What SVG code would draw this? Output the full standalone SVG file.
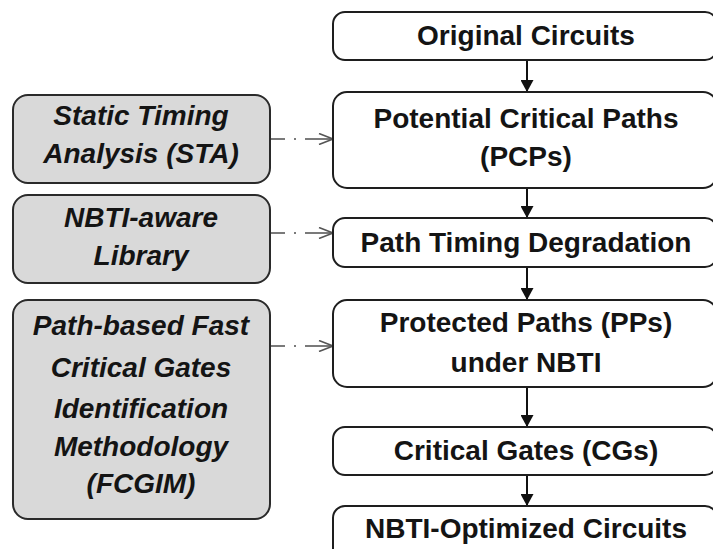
<svg xmlns="http://www.w3.org/2000/svg" width="713" height="549" viewBox="0 0 713 549">
  <style>
    .step { fill: #ffffff; stroke: #1e1e1e; stroke-width: 2; }
    .tool { fill: #d9d9d9; stroke: #2a2a2a; stroke-width: 2; }
    .t { font-family: "Liberation Sans", Arial, sans-serif; font-weight: bold; font-size: 28px; fill: #141414; text-anchor: middle; }
    .ti { font-style: italic; }
    .flow { stroke: #111; stroke-width: 2; fill: none; marker-end: url(#solid); }
    .feed { stroke: #7a7a7a; stroke-width: 2; fill: none; stroke-dasharray: 17 9 2 9 60; marker-end: url(#open); }
  </style>
  <defs>
    <marker id="solid" viewBox="0 0 12 13" refX="12" refY="6.5" markerWidth="12" markerHeight="13" markerUnits="userSpaceOnUse" orient="auto">
      <path d="M0,0 L12,6.5 L0,13 Z" fill="#111"/>
    </marker>
    <marker id="open" viewBox="0 0 16 12" refX="15" refY="6" markerWidth="16" markerHeight="12" markerUnits="userSpaceOnUse" orient="auto">
      <path d="M1,0.5 L15,6 L1,11.5" fill="none" stroke="#555" stroke-width="1.6"/>
    </marker>
  </defs>

  <rect width="713" height="549" fill="#ffffff"/>

  <!-- connectors -->
  <g id="connectors">
    <line class="flow" x1="527" y1="60" x2="527" y2="92"/>
    <line class="flow" x1="527" y1="188" x2="527" y2="218"/>
    <line class="flow" x1="527" y1="267" x2="527" y2="300"/>
    <line class="flow" x1="527" y1="387" x2="527" y2="427"/>
    <line class="flow" x1="527" y1="475" x2="527" y2="506"/>
    <line class="feed" x1="268" y1="139" x2="333" y2="139"/>
    <line class="feed" x1="268" y1="233" x2="333" y2="233"/>
    <line class="feed" x1="268" y1="346" x2="333" y2="346"/>
  </g>

  <!-- main flow -->
  <g id="original-circuits">
    <rect class="step" x="333" y="12" width="384" height="48" rx="12"/>
    <text class="t" x="526" y="45">Original Circuits</text>
  </g>
  <g id="pcps">
    <rect class="step" x="333" y="92" width="384" height="96" rx="14"/>
    <text class="t" x="526" y="128">Potential Critical Paths</text>
    <text class="t" x="526" y="166">(PCPs)</text>
  </g>
  <g id="path-timing-degradation">
    <rect class="step" x="333" y="218" width="384" height="49" rx="12"/>
    <text class="t" x="526" y="252">Path Timing Degradation</text>
  </g>
  <g id="protected-paths">
    <rect class="step" x="333" y="300" width="384" height="87" rx="14"/>
    <text class="t" x="526" y="332">Protected Paths (PPs)</text>
    <text class="t" x="526" y="372">under NBTI</text>
  </g>
  <g id="critical-gates">
    <rect class="step" x="333" y="427" width="384" height="48" rx="12"/>
    <text class="t" x="526" y="460">Critical Gates (CGs)</text>
  </g>
  <g id="optimized-circuits">
    <rect class="step" x="333" y="506" width="384" height="60" rx="12"/>
    <text class="t" x="526" y="538">NBTI-Optimized Circuits</text>
  </g>

  <!-- supporting tools -->
  <g id="sta">
    <rect class="tool" x="13" y="95" width="257" height="88" rx="15"/>
    <text class="t ti" x="141" y="125">Static Timing</text>
    <text class="t ti" x="141" y="163">Analysis (STA)</text>
  </g>
  <g id="nbti-library">
    <rect class="tool" x="13" y="195" width="257" height="88" rx="15"/>
    <text class="t ti" x="141" y="227">NBTI-aware</text>
    <text class="t ti" x="141" y="265">Library</text>
  </g>
  <g id="fcgim">
    <rect class="tool" x="13" y="300" width="257" height="219" rx="15"/>
    <text class="t ti" x="141" y="335">Path-based Fast</text>
    <text class="t ti" x="141" y="377">Critical Gates</text>
    <text class="t ti" x="141" y="418">Identification</text>
    <text class="t ti" x="141" y="456">Methodology</text>
    <text class="t ti" x="141" y="493">(FCGIM)</text>
  </g>
</svg>
